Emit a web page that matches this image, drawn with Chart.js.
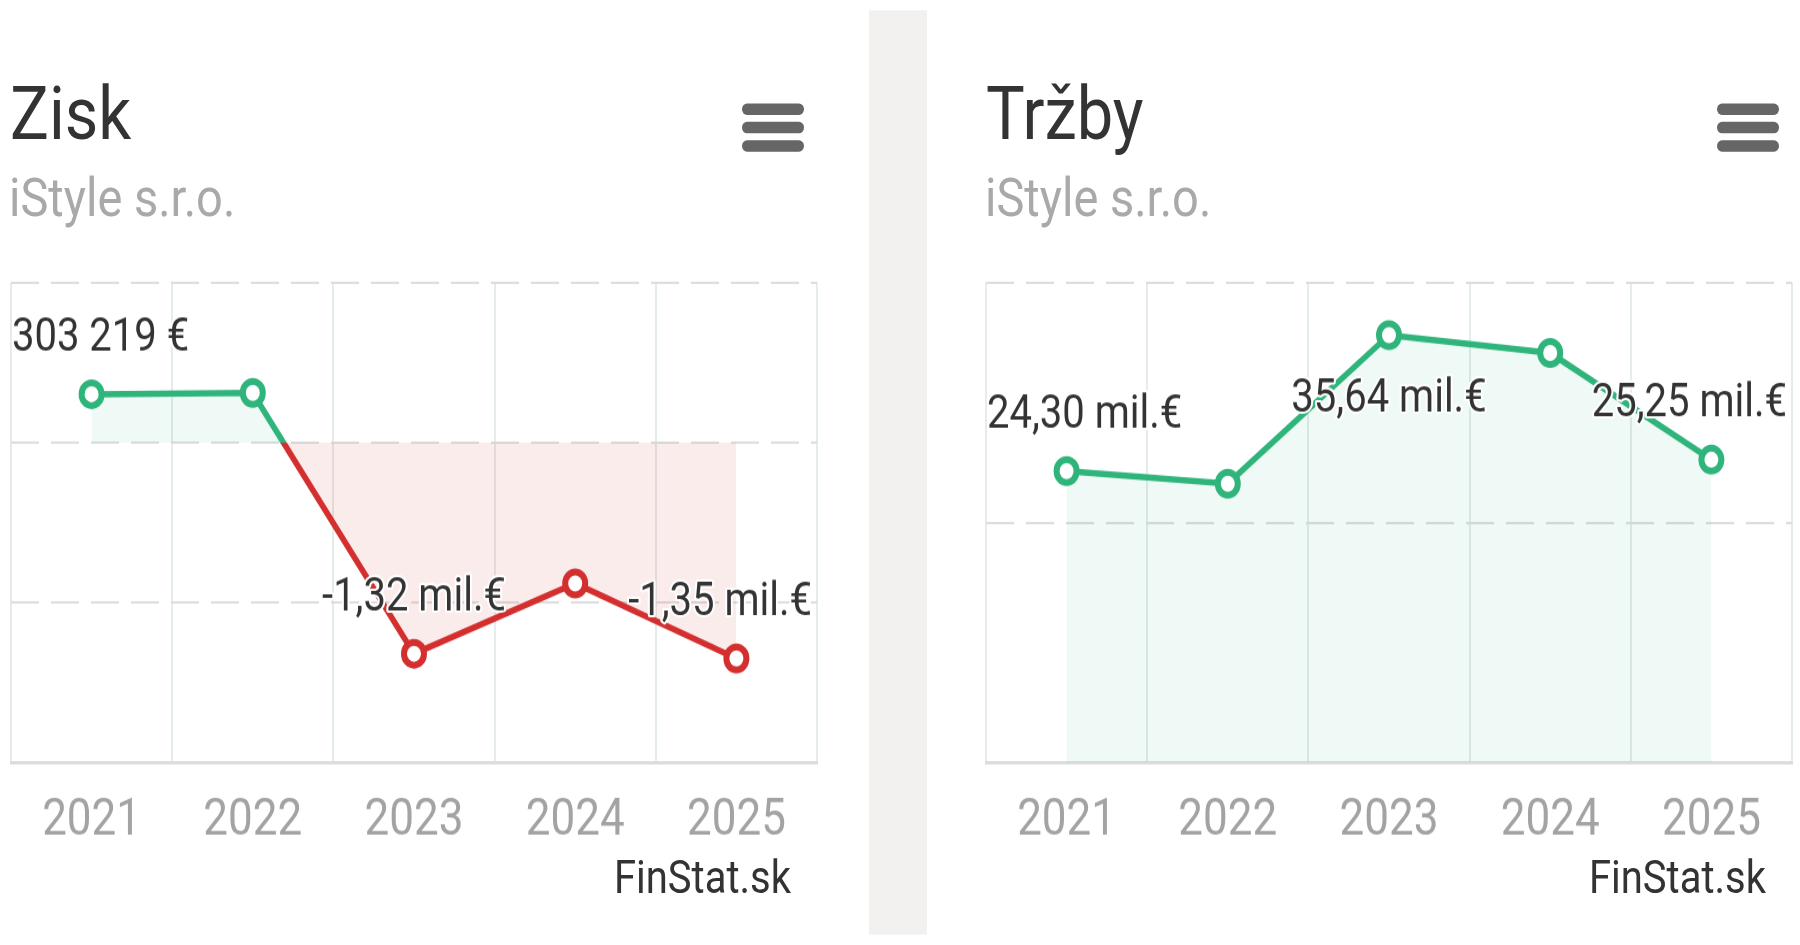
<!DOCTYPE html>
<html>
<head>
<meta charset="utf-8">
<script src="https://cdn.jsdelivr.net/npm/chart.js@4.4.1/dist/chart.umd.min.js"></script>
<style>
    html { overflow: hidden; }
    html, body { margin: 0; padding: 0; background: #fff; }
    body { width: 1800px; height: 945px; }
    #page {
        position: relative; width: 1800px; height: 822px;
        transform: scaleY(1.1496); transform-origin: 0 0;
        font-family: Roboto, "Noto Sans", sans-serif;
    }
    .sep { position: absolute; left: 869px; top: 8.7px; width: 58px; height: 804px; background: #f2f1ef; }
    .title { position: absolute; top: 67px; font-size: 65px; line-height: 1; color: #333; }
    .subtitle { position: absolute; top: 147.5px; font-size: 47px; line-height: 1; color: #a9a9a9; }
    .credits { position: absolute; top: 744px; font-size: 40px; line-height: 1; color: #333; text-align: right; width: 300px; }
    .menu { position: absolute; top: 89.6px; width: 62px; }
    .menu div { height: 10px; border-radius: 5px; background: #666; margin-bottom: 6.4px; }
    canvas { position: absolute; top: 236px; }
</style>
</head>
<body>
<div id="page">
    <div class="sep"></div>

    <div class="title" style="left:10px">Zisk</div>
    <div class="subtitle" style="left:9px">iStyle s.r.o.</div>
    <div class="menu" style="left:742px"><div></div><div></div><div></div></div>
    <canvas id="ziskChart" width="808" height="531" style="left:10px"></canvas>
    <div class="credits" style="left:491px">FinStat.sk</div>

    <div class="title" style="left:986px">Tržby</div>
    <div class="subtitle" style="left:985px">iStyle s.r.o.</div>
    <div class="menu" style="left:1717px"><div></div><div></div><div></div></div>
    <canvas id="trzbyChart" width="808" height="531" style="left:985px"></canvas>
    <div class="credits" style="left:1466px">FinStat.sk</div>
</div>

<script>
// Roky na osi X
const years = ['2021', '2022', '2023', '2024', '2025'];

// Zisk (EUR)
const ziskValues = [303219, 311000, -1320000, -880000, -1350000];
const ziskTicks = [-2000000, -1000000, 0, 1000000];

// Tržby (EUR)
const trzbyValues = [24300000, 23250000, 35640000, 34150000, 25250000];
const trzbyTicks = [0, 20000000, 40000000];

const green = '#2fb47c';
const red = '#d32f2f';
const greenFill = 'rgba(48, 180, 124, 0.08)';
const redFill = 'rgba(211, 47, 47, 0.09)';

// Formát ako na FinStat: 303 219 € / -1,32 mil.€
function formatValue(v) {
    if (Math.abs(v) >= 1000000) {
        return (v / 1000000).toFixed(2).replace('.', ',') + ' mil.€';
    }
    return String(Math.round(v)).replace(/\B(?=(\d{3})+(?!\d))/g, ' ') + ' €';
}

// Popisky hodnôt nad každým druhým bodom (pod bodom, ak by vyšli mimo graf)
const valueLabels = {
    id: 'valueLabels',
    afterDatasetsDraw(chart) {
        const ctx = chart.ctx;
        const area = chart.chartArea;
        const meta = chart.getDatasetMeta(0);
        const values = chart.data.datasets[0].data;
        ctx.save();
        ctx.font = '40px Roboto';
        ctx.textAlign = 'left';
        ctx.textBaseline = 'alphabetic';
        ctx.lineJoin = 'round';
        meta.data.forEach((pt, i) => {
            if (i % 2) return;
            const text = formatValue(values[i]);
            const w = ctx.measureText(text).width;
            let x = pt.x - w / 2;
            if (x < area.left + 1) x = area.left + 1;
            if (x + w > area.right - 5) x = area.right - 5 - w;
            let y = pt.y - 38;
            if (y - 30 < area.top) y = pt.y + 67;
            ctx.strokeStyle = '#fff';
            ctx.lineWidth = 4;
            ctx.strokeText(text, x, y);
            ctx.fillStyle = '#333';
            ctx.fillText(text, x, y);
        });
        ctx.restore();
    }
};

// Čiara zelená nad nulou, červená pod nulou
function splitColor(context) {
    const chart = context.chart;
    const area = chart.chartArea;
    if (!area) return green;
    const zero = chart.scales.y.getPixelForValue(0);
    const stop = Math.min(Math.max((zero - area.top) / (area.bottom - area.top), 0), 1);
    const g = chart.ctx.createLinearGradient(0, area.top, 0, area.bottom);
    g.addColorStop(0, green);
    g.addColorStop(stop, green);
    g.addColorStop(stop, red);
    g.addColorStop(1, red);
    return g;
}

function createChart(canvasId, values, ticks, lineColor, pointColors, fill) {
    const ctx = document.getElementById(canvasId).getContext('2d');
    return new Chart(ctx, {
        type: 'line',
        data: {
            labels: years,
            datasets: [{
                data: values,
                borderColor: lineColor,
                borderWidth: 5.5,
                tension: 0,
                fill: fill,
                pointRadius: 10,
                pointHoverRadius: 10,
                pointBorderWidth: 6,
                pointBackgroundColor: '#fff',
                pointBorderColor: pointColors,
                clip: false
            }]
        },
        options: {
            responsive: false,
            animation: false,
            events: [],
            layout: { autoPadding: false, padding: { top: 10, bottom: 1, left: 1, right: 1 } },
            plugins: {
                legend: { display: false },
                tooltip: { enabled: false }
            },
            scales: {
                x: {
                    offset: true,
                    grid: { offset: true, color: '#e4ecec', lineWidth: 2, drawTicks: false },
                    border: { display: true, color: '#dcdcdc', width: 3 },
                    ticks: {
                        color: '#a3a3a3', padding: 25, maxRotation: 0, autoSkip: false,
                        font: { family: 'Roboto', size: 44 }
                    }
                },
                y: {
                    min: ticks[0],
                    max: ticks[ticks.length - 1],
                    afterBuildTicks: (scale) => { scale.ticks = ticks.map(v => ({ value: v })); },
                    grid: { color: '#dddddd', lineWidth: 2, drawTicks: false },
                    border: { display: false, dash: [28, 12] },
                    ticks: { display: false }
                }
            }
        },
        plugins: [valueLabels]
    });
}

const charts = {};
charts.zisk = createChart('ziskChart', ziskValues, ziskTicks, splitColor,
    ziskValues.map(v => v < 0 ? red : green),
    { target: 'origin', above: greenFill, below: redFill });
charts.trzby = createChart('trzbyChart', trzbyValues, trzbyTicks, green,
    trzbyValues.map(() => green),
    { target: 'origin', above: greenFill, below: greenFill });
</script>
</body>
</html>
